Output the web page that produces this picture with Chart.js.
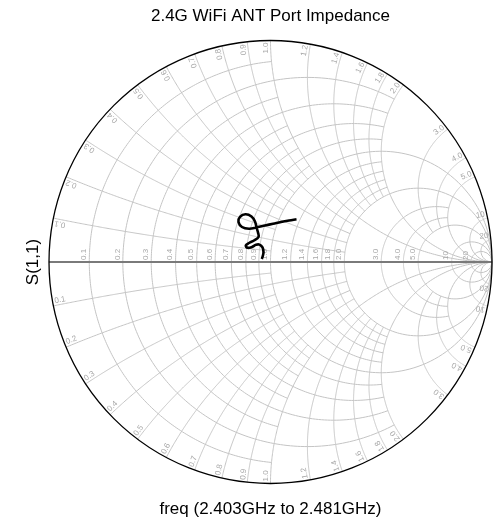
<!DOCTYPE html>
<html>
<head>
<meta charset="utf-8">
<script src="https://cdn.jsdelivr.net/npm/chart.js@4/dist/chart.umd.min.js"></script>
<style>
  html, body { margin: 0; padding: 0; background: #ffffff; }
  #wrap { width: 500px; height: 523px; }
</style>
</head>
<body>
<div id="wrap"><canvas id="smith" width="500" height="523"></canvas></div>
<script>
// Chart texts
const chartTitle = '2.4G WiFi ANT Port Impedance';
const sweepLabel = 'freq (2.403GHz to 2.481GHz)';
const traceName = 'S(1,1)';

// Normalised grid values (resistance circles and reactance arcs) and their labels
const gridValues = [0.1, 0.2, 0.3, 0.4, 0.5, 0.6, 0.7, 0.8, 0.9, 1.0, 1.2, 1.4, 1.6, 1.8, 2.0, 3.0, 4.0, 5.0, 10, 20];
const gridLabels = ['0.1', '0.2', '0.3', '0.4', '0.5', '0.6', '0.7', '0.8', '0.9', '1.0', '1.2', '1.4', '1.6', '1.8', '2.0', '3.0', '4.0', '5.0', '10', '20'];
// How far each resistance circle runs in |x|, and each reactance arc runs in r (Infinity = complete)
const rCircleLimit = [1, 2, 1, 2, 1, 2, 1, 2, 1, Infinity, 2, 2, 2, 2, Infinity, 5, 5, Infinity, Infinity, Infinity];
const xArcLimit    = [1, 2, 1, 2, 1, 2, 1, 2, 1, Infinity, 2, 2, 2, 2, Infinity, 5, 5, Infinity, Infinity, Infinity];

// Measured reflection coefficient S(1,1) across the sweep (real / imaginary parts)
const s11Re = [0.1174, 0.0835, 0.0474, 0.0113, -0.0248, -0.0609, -0.0971, -0.1287, -0.1445, -0.1377, -0.1129, -0.0858, -0.0700, -0.0632, -0.0564, -0.0542, -0.0745, -0.0971, -0.1115, -0.1038, -0.0835, -0.0655, -0.0497, -0.0361, -0.0316, -0.0348, -0.0393];
const s11Im = [0.1928, 0.1874, 0.1806, 0.1725, 0.1648, 0.1567, 0.1503, 0.1580, 0.1806, 0.2032, 0.2154, 0.2054, 0.1828, 0.1558, 0.1332, 0.1129, 0.0971, 0.0858, 0.0745, 0.0641, 0.0677, 0.0777, 0.0786, 0.0655, 0.0451, 0.0271, 0.0135];

const tracePoints = s11Re.map((re, i) => ({ x: re, y: s11Im[i] }));

// z = r + jx  ->  gamma = (z - 1) / (z + 1)
function zToGamma(r, x) {
  if (!isFinite(r) || !isFinite(x)) return { re: 1, im: 0 };
  const den = (r + 1) * (r + 1) + x * x;
  return { re: (r * r + x * x - 1) / den, im: (2 * x) / den };
}

const FONT = "'Liberation Sans', Arial, sans-serif";
const GRID_COLOR = '#c4c4c4';
const LABEL_COLOR = '#a8a8a8';

const smithGrid = {
  id: 'smithGrid',
  beforeDatasetsDraw(chart) {
    const { ctx, scales } = chart;
    const sx = scales.x, sy = scales.y;
    const px = (g) => [sx.getPixelForValue(g.re), sy.getPixelForValue(g.im)];
    const cx = sx.getPixelForValue(0), cy = sy.getPixelForValue(0);
    const steps = 240;

    const strokePath = (fn, t0, t1) => {
      ctx.beginPath();
      for (let i = 0; i <= steps; i++) {
        const t = t0 + (t1 - t0) * i / steps;
        const p = px(fn(t));
        if (i === 0) ctx.moveTo(p[0], p[1]); else ctx.lineTo(p[0], p[1]);
      }
      ctx.stroke();
    };
    const tanSafe = (t) => (Math.abs(Math.abs(t) - Math.PI / 2) < 1e-9 ? Infinity * Math.sign(t) : Math.tan(t));

    ctx.save();
    ctx.lineWidth = 1;
    ctx.strokeStyle = GRID_COLOR;
    gridValues.forEach((v, i) => {
      // resistance circle r = v, for |x| up to its limit
      const xm = Math.atan(rCircleLimit[i]);
      strokePath((t) => zToGamma(v, tanSafe(t)), -xm, xm);
      // reactance arcs x = +v and x = -v, for r from 0 up to its limit
      const rm = Math.atan(xArcLimit[i]);
      strokePath((t) => zToGamma(tanSafe(t), v), 0, rm);
      strokePath((t) => zToGamma(tanSafe(t), -v), 0, rm);
    });

    // real axis
    ctx.strokeStyle = '#7a7a7a';
    ctx.lineWidth = 2;
    ctx.beginPath();
    ctx.moveTo(sx.getPixelForValue(-1), cy);
    ctx.lineTo(sx.getPixelForValue(1), cy);
    ctx.stroke();

    // outer rim
    ctx.strokeStyle = '#000000';
    ctx.lineWidth = 1.3;
    ctx.beginPath();
    ctx.arc(cx, cy, sx.getPixelForValue(1) - cx, 0, Math.PI * 2);
    ctx.stroke();

    // labels
    ctx.fillStyle = LABEL_COLOR;
    ctx.font = '8px ' + FONT;
    gridValues.forEach((v, i) => {
      // resistance labels along the real axis
      const p = px(zToGamma(v, 0));
      ctx.save();
      ctx.translate(p[0] - 1.5, cy - 2);
      ctx.rotate(-Math.PI / 2);
      ctx.textAlign = 'left';
      ctx.textBaseline = 'bottom';
      ctx.fillText(gridLabels[i], 0, 0);
      ctx.restore();

      // reactance labels at the rim
      [v, -v].forEach((x) => {
        const q = px(zToGamma(0, x));
        const ox = q[0] - cx, oy = q[1] - cy;
        const len = Math.hypot(ox, oy);
        const ux = ox / len, uy = oy / len;
        ctx.save();
        ctx.translate(q[0] - ux * 2, q[1] - uy * 2);
        if (x > 0) {
          ctx.rotate(Math.atan2(uy, ux));
          ctx.textAlign = 'right';
        } else {
          ctx.rotate(Math.atan2(-uy, -ux));
          ctx.textAlign = 'left';
        }
        ctx.textBaseline = 'bottom';
        ctx.fillText(gridLabels[i], 0, -0.5);
        ctx.restore();
      });
    });
    ctx.restore();
  },
  afterDraw(chart) {
    const { ctx } = chart;
    const cx = chart.scales.x.getPixelForValue(0);
    const cy = chart.scales.y.getPixelForValue(0);
    ctx.save();
    ctx.fillStyle = '#000000';
    ctx.font = '17px ' + FONT;
    ctx.textAlign = 'center';
    ctx.textBaseline = 'alphabetic';
    ctx.fillText(chartTitle, cx, 21);
    ctx.fillText(sweepLabel, cx, 514);
    ctx.translate(38, cy);
    ctx.rotate(-Math.PI / 2);
    ctx.fillText(traceName, 0, 0);
    ctx.restore();
  }
};

new Chart(document.getElementById('smith'), {
  type: 'scatter',
  data: {
    datasets: [{
      label: traceName,
      data: tracePoints,
      showLine: true,
      borderColor: '#000000',
      borderWidth: 2.6,
      pointRadius: 0,
      tension: 0.4,
      fill: false
    }]
  },
  options: {
    responsive: false,
    animation: false,
    devicePixelRatio: 1,
    layout: { padding: { left: 49, right: 8, top: 40.5, bottom: 39.5 } },
    plugins: { legend: { display: false }, tooltip: { enabled: false }, title: { display: false } },
    scales: {
      x: { type: 'linear', min: -1, max: 1, display: false },
      y: { type: 'linear', min: -1, max: 1, display: false }
    }
  },
  plugins: [smithGrid]
});
</script>
</body>
</html>
